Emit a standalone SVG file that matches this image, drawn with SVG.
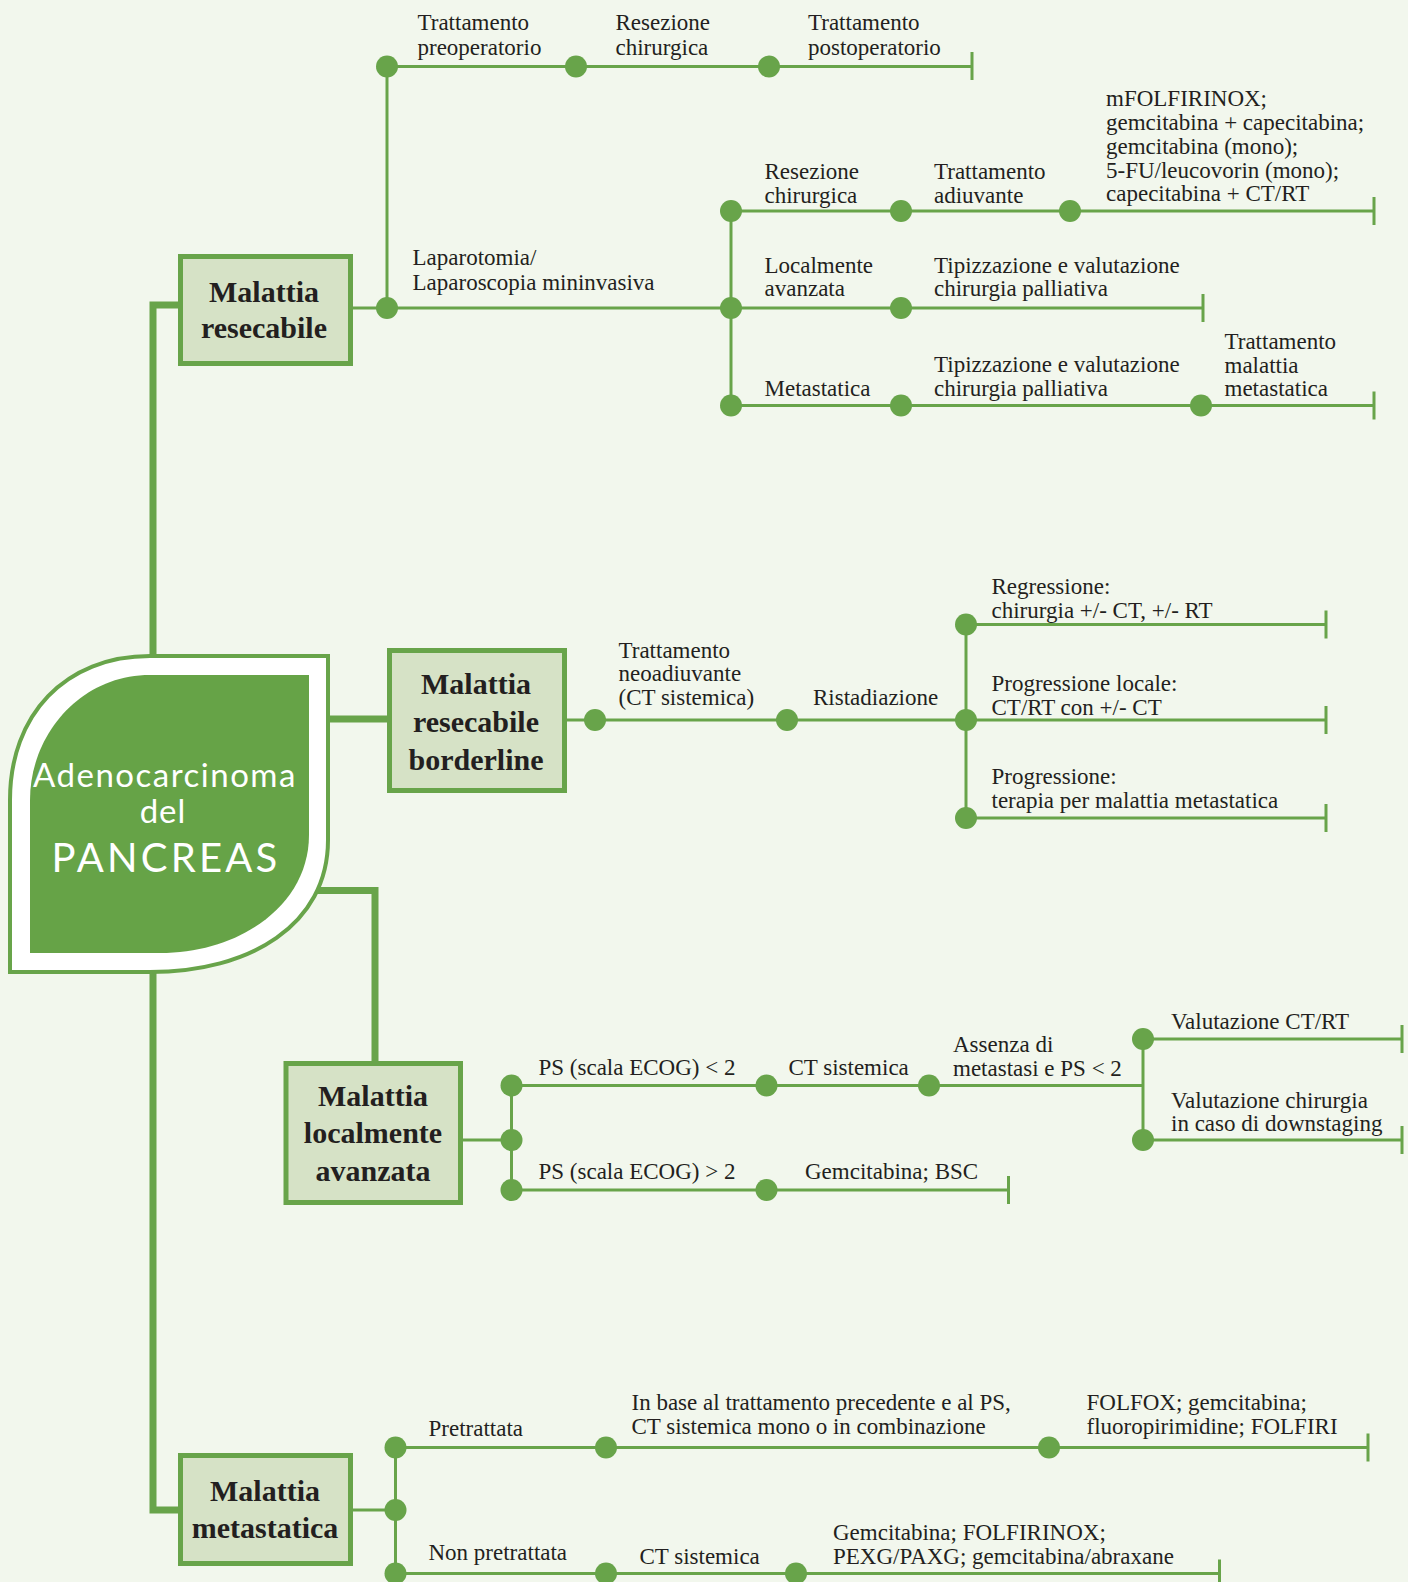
<svg xmlns="http://www.w3.org/2000/svg" width="1408" height="1582" viewBox="0 0 1408 1582">
  <style>
    .ln { stroke: #68a44a; stroke-width: 3; fill: none; }
    .thick { stroke: #68a44a; stroke-width: 7; fill: none; }
    .dot { fill: #68a44a; }
    .box { fill: #d6e2c6; stroke: #68a44a; stroke-width: 5; }
    .t { font-family: "Liberation Serif", "Times New Roman", serif; font-size: 23px; fill: #231f20; }
    .bt { font-family: "Liberation Serif", "Times New Roman", serif; font-size: 30px; font-weight: bold; fill: #231f20; text-anchor: middle; }
    .ct { font-family: Lato, "Noto Sans", sans-serif; font-weight: 400; fill: #ffffff; text-anchor: middle; }
  </style>
  <rect width="1408" height="1582" fill="#f2f7ed"/>

  <!-- connectors -->
  <g id="connectors">
    <!-- thick trunk lines from the central node -->
    <path class="thick" d="M153,660 V305 H180"/>
    <path class="thick" d="M320,719 H389"/>
    <path class="thick" d="M300,890.5 H375 V1063"/>
    <path class="thick" d="M153,968 V1510 H180"/>

    <!-- resecabile -->
    <path class="ln" d="M387,66.5 H972 M972,52 V80"/>
    <path class="ln" d="M387,66.5 V308"/>
    <path class="ln" d="M353,308 H731"/>
    <path class="ln" d="M731,211 V405.5"/>
    <path class="ln" d="M731,211 H1374 M1374,197 V225"/>
    <path class="ln" d="M731,308 H1203 M1203,294 V322"/>
    <path class="ln" d="M731,405.5 H1374 M1374,391.5 V419.5"/>

    <!-- borderline -->
    <path class="ln" d="M567,720 H966"/>
    <path class="ln" d="M966,624.5 V818"/>
    <path class="ln" d="M966,624.5 H1326 M1326,610.5 V638.5"/>
    <path class="ln" d="M966,720 H1326 M1326,706 V734"/>
    <path class="ln" d="M966,818 H1326 M1326,804 V832"/>

    <!-- localmente avanzata -->
    <path class="ln" d="M463,1140 H511.5"/>
    <path class="ln" d="M511.5,1085.5 V1190"/>
    <path class="ln" d="M511.5,1085.5 H1143"/>
    <path class="ln" d="M1143,1039 V1140"/>
    <path class="ln" d="M1143,1039 H1402 M1402,1025 V1053"/>
    <path class="ln" d="M1143,1140 H1402 M1402,1126 V1154"/>
    <path class="ln" d="M511.5,1190 H1008.5 M1008.5,1176 V1204"/>

    <!-- metastatica -->
    <path class="ln" d="M353,1510 H395.5"/>
    <path class="ln" d="M395.5,1447.5 V1573.5"/>
    <path class="ln" d="M395.5,1447.5 H1368 M1368,1433.5 V1461.5"/>
    <path class="ln" d="M395.5,1573.5 H1219.5 M1219.5,1559.5 V1587.5"/>
  </g>

  <!-- central node -->
  <g id="node-pancreas">
    <path d="M10,972 V800 C10,715 65,656 150,656 H328 V840 C328,925 250,972 150,972 Z" fill="#ffffff" stroke="#68a44a" stroke-width="4"/>
    <path d="M30,953 V800 C30,735 80,675 150,675 H309 V835 C309,905 240,953 160,953 Z" fill="#66a347"/>
    <text class="ct" x="165" y="787" font-size="33" letter-spacing="1.5">Adenocarcinoma</text>
    <text class="ct" x="163" y="823" font-size="33" letter-spacing="1">del</text>
    <text class="ct" x="166" y="872" font-size="40" letter-spacing="3.2">PANCREAS</text>
  </g>

  <!-- Malattia resecabile -->
  <g id="node-resecabile">
    <rect class="box" x="180.5" y="256.5" width="170" height="107"/>
    <text class="bt" x="264" y="302">Malattia</text>
    <text class="bt" x="264" y="338">resecabile</text>
  </g>
  <g id="node-resecabile-steps">
    <circle class="dot" cx="387" cy="66.5" r="11"/>
    <circle class="dot" cx="576" cy="66.5" r="11"/>
    <circle class="dot" cx="769" cy="66.5" r="11"/>
    <circle class="dot" cx="387" cy="308" r="11"/>
    <circle class="dot" cx="731" cy="308" r="11"/>
    <circle class="dot" cx="731" cy="211" r="11"/>
    <circle class="dot" cx="901" cy="211" r="11"/>
    <circle class="dot" cx="1070" cy="211" r="11"/>
    <circle class="dot" cx="901" cy="308" r="11"/>
    <circle class="dot" cx="731" cy="405.5" r="11"/>
    <circle class="dot" cx="901" cy="405.5" r="11"/>
    <circle class="dot" cx="1201" cy="405.5" r="11"/>
    <text class="t" x="417.5" y="30">Trattamento</text>
    <text class="t" x="417.5" y="54.5">preoperatorio</text>
    <text class="t" x="615.5" y="30">Resezione</text>
    <text class="t" x="615.5" y="54.5">chirurgica</text>
    <text class="t" x="808" y="30">Trattamento</text>
    <text class="t" x="808" y="54.5">postoperatorio</text>
    <text class="t" x="412.5" y="265">Laparotomia/</text>
    <text class="t" x="412.5" y="289.5">Laparoscopia mininvasiva</text>
    <text class="t" x="764.5" y="178.5">Resezione</text>
    <text class="t" x="764.5" y="202.5">chirurgica</text>
    <text class="t" x="934" y="178.5">Trattamento</text>
    <text class="t" x="934" y="202.5">adiuvante</text>
    <text class="t" x="1106" y="106">mFOLFIRINOX;</text>
    <text class="t" x="1106" y="130">gemcitabina + capecitabina;</text>
    <text class="t" x="1106" y="153.5">gemcitabina (mono);</text>
    <text class="t" x="1106" y="177.5">5-FU/leucovorin (mono);</text>
    <text class="t" x="1106" y="201">capecitabina + CT/RT</text>
    <text class="t" x="764.5" y="272.5">Localmente</text>
    <text class="t" x="764.5" y="296">avanzata</text>
    <text class="t" x="934" y="272.5">Tipizzazione e valutazione</text>
    <text class="t" x="934" y="296">chirurgia palliativa</text>
    <text class="t" x="764.5" y="395.5">Metastatica</text>
    <text class="t" x="934" y="372">Tipizzazione e valutazione</text>
    <text class="t" x="934" y="395.5">chirurgia palliativa</text>
    <text class="t" x="1224.5" y="349">Trattamento</text>
    <text class="t" x="1224.5" y="372.5">malattia</text>
    <text class="t" x="1224.5" y="396">metastatica</text>
  </g>

  <!-- Malattia resecabile borderline -->
  <g id="node-borderline">
    <rect class="box" x="389.5" y="650.5" width="175" height="140"/>
    <text class="bt" x="476" y="694">Malattia</text>
    <text class="bt" x="476" y="732">resecabile</text>
    <text class="bt" x="476" y="769.5">borderline</text>
  </g>
  <g id="node-borderline-steps">
    <circle class="dot" cx="595" cy="720" r="11"/>
    <circle class="dot" cx="787" cy="720" r="11"/>
    <circle class="dot" cx="966" cy="720" r="11"/>
    <circle class="dot" cx="966" cy="624.5" r="11"/>
    <circle class="dot" cx="966" cy="818" r="11"/>
    <text class="t" x="618.5" y="657.5">Trattamento</text>
    <text class="t" x="618.5" y="681">neoadiuvante</text>
    <text class="t" x="618.5" y="704.5">(CT sistemica)</text>
    <text class="t" x="813" y="704.5">Ristadiazione</text>
    <text class="t" x="991.5" y="594">Regressione:</text>
    <text class="t" x="991.5" y="617.5">chirurgia +/- CT, +/- RT</text>
    <text class="t" x="991.5" y="691">Progressione locale:</text>
    <text class="t" x="991.5" y="714.5">CT/RT con +/- CT</text>
    <text class="t" x="991.5" y="784">Progressione:</text>
    <text class="t" x="991.5" y="807.5">terapia per malattia metastatica</text>
  </g>

  <!-- Malattia localmente avanzata -->
  <g id="node-localmente-avanzata">
    <rect class="box" x="286" y="1063.5" width="174.5" height="139"/>
    <text class="bt" x="373" y="1105.5">Malattia</text>
    <text class="bt" x="373" y="1143">localmente</text>
    <text class="bt" x="373" y="1181">avanzata</text>
  </g>
  <g id="node-localmente-avanzata-steps">
    <circle class="dot" cx="511.5" cy="1140" r="11"/>
    <circle class="dot" cx="511.5" cy="1085.5" r="11"/>
    <circle class="dot" cx="766.5" cy="1085.5" r="11"/>
    <circle class="dot" cx="929" cy="1085.5" r="11"/>
    <circle class="dot" cx="1143" cy="1039" r="11"/>
    <circle class="dot" cx="1143" cy="1140" r="11"/>
    <circle class="dot" cx="511.5" cy="1190" r="11"/>
    <circle class="dot" cx="766.5" cy="1190" r="11"/>
    <text class="t" x="538.5" y="1075">PS (scala ECOG) &lt; 2</text>
    <text class="t" x="788.5" y="1075">CT sistemica</text>
    <text class="t" x="953" y="1052">Assenza di</text>
    <text class="t" x="953" y="1075.5">metastasi e PS &lt; 2</text>
    <text class="t" x="1171" y="1029">Valutazione CT/RT</text>
    <text class="t" x="1171" y="1107.5">Valutazione chirurgia</text>
    <text class="t" x="1171" y="1130.5">in caso di downstaging</text>
    <text class="t" x="538.5" y="1179">PS (scala ECOG) &gt; 2</text>
    <text class="t" x="805" y="1179">Gemcitabina; BSC</text>
  </g>

  <!-- Malattia metastatica -->
  <g id="node-metastatica">
    <rect class="box" x="180.5" y="1455.5" width="170" height="108"/>
    <text class="bt" x="265" y="1501">Malattia</text>
    <text class="bt" x="265" y="1538">metastatica</text>
  </g>
  <g id="node-metastatica-steps">
    <circle class="dot" cx="395.5" cy="1510" r="11"/>
    <circle class="dot" cx="395.5" cy="1447.5" r="11"/>
    <circle class="dot" cx="606" cy="1447.5" r="11"/>
    <circle class="dot" cx="1049" cy="1447.5" r="11"/>
    <circle class="dot" cx="395.5" cy="1573.5" r="11"/>
    <circle class="dot" cx="606" cy="1573.5" r="11"/>
    <circle class="dot" cx="796" cy="1573.5" r="11"/>
    <text class="t" x="428.5" y="1436">Pretrattata</text>
    <text class="t" x="631.5" y="1410">In base al trattamento precedente e al PS,</text>
    <text class="t" x="631.5" y="1434">CT sistemica mono o in combinazione</text>
    <text class="t" x="1086.5" y="1410">FOLFOX; gemcitabina;</text>
    <text class="t" x="1086.5" y="1434">fluoropirimidine; FOLFIRI</text>
    <text class="t" x="428.5" y="1559.5">Non pretrattata</text>
    <text class="t" x="639.5" y="1563.5">CT sistemica</text>
    <text class="t" x="833" y="1540">Gemcitabina; FOLFIRINOX;</text>
    <text class="t" x="833" y="1563.5">PEXG/PAXG; gemcitabina/abraxane</text>
  </g>
</svg>
